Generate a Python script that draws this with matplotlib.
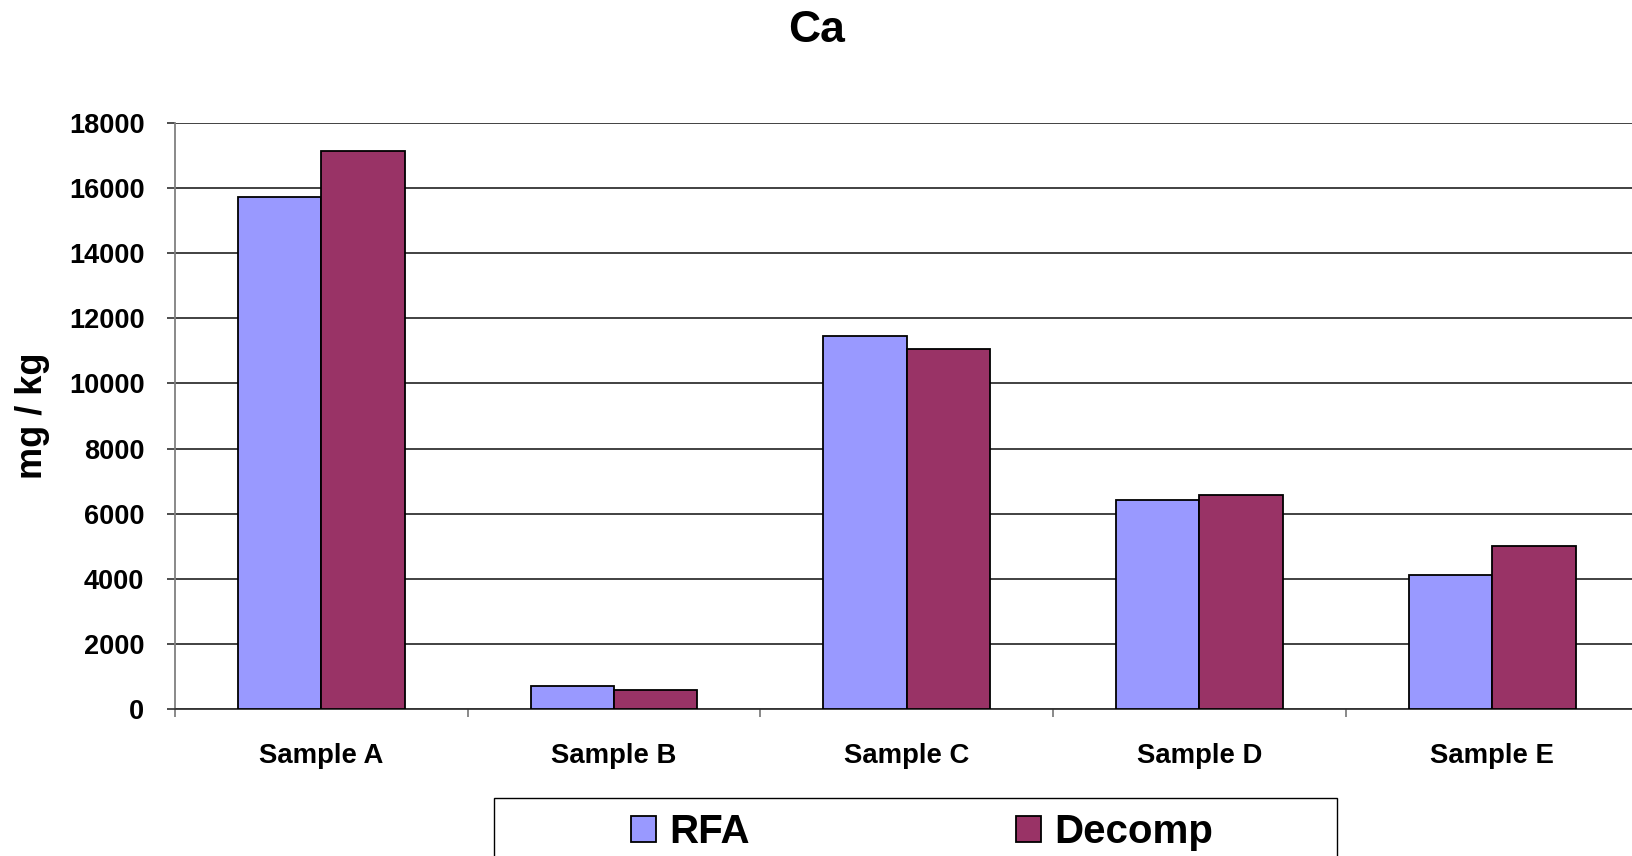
import matplotlib
matplotlib.use("Agg")
import matplotlib.pyplot as plt
from matplotlib.patches import Rectangle
import numpy as np

plt.rcParams["font.family"] = ["Liberation Sans", "DejaVu Sans"]
plt.rcParams["font.weight"] = "bold"

categories = ["Sample A", "Sample B", "Sample C", "Sample D", "Sample E"]
rfa = [15730, 724, 11446, 6413, 4130]
decomp = [17131, 601, 11065, 6567, 5002]
yticks = [0, 2000, 4000, 6000, 8000, 10000, 12000, 14000, 16000, 18000]

W, H = 1633, 856
fig = plt.figure(figsize=(W / 100, H / 100), dpi=100)
ax = fig.add_axes([175 / W, 1 - 709.3 / H, 1463.5 / W, (709.3 - 122.7) / H])

x = np.arange(len(categories)) + 0.5
bw = 0.285
ax.bar(x - bw / 2, rfa, bw, color="#9999FF", edgecolor="black", linewidth=1.3,
       label="RFA", zorder=3)
ax.bar(x + bw / 2, decomp, bw, color="#993366", edgecolor="black", linewidth=1.3,
       label="Decomp", zorder=3)

ax.set_xlim(0, len(categories))
ax.set_ylim(0, 18000)
ax.set_yticks(yticks)
ax.set_yticklabels([str(v) for v in yticks], fontsize=19.5, fontweight="bold")
ax.set_xticks(x)
ax.set_xticklabels(categories, fontsize=19.8, fontweight="bold")
ax.set_xticks(np.arange(len(categories) + 1), minor=True)
ax.tick_params(axis="x", which="major", length=0, pad=24)
ax.tick_params(axis="x", which="minor", length=6, width=1.3, color="#808080")
ax.tick_params(axis="y", length=6, width=1.3, color="#404040", pad=16)

ax.yaxis.grid(True, color="#333333", linewidth=1.3, zorder=0)
ax.set_axisbelow(True)
for s in ("top", "right"):
    ax.spines[s].set_visible(False)
ax.spines["left"].set_color("#808080")
ax.spines["left"].set_linewidth(1.3)
ax.spines["bottom"].set_color("#333333")
ax.spines["bottom"].set_linewidth(1.3)

fig.text(0.5, 1 - 31 / H, "Ca", ha="center", va="center", fontsize=32,
         fontweight="bold")
fig.text(33 / W, 1 - 416 / H, "mg / kg", ha="center", va="center", rotation=90,
         fontsize=26, fontweight="bold")

# legend frame, running off the bottom edge
fig.patches.append(Rectangle((494 / W, -0.05), 843 / W, 0.05 + (1 - 798 / H),
                             transform=fig.transFigure, fill=False,
                             edgecolor="black", linewidth=1.0))
handles, labels = ax.get_legend_handles_labels()
fig.legend(handles, labels, loc="center left",
           bbox_to_anchor=(611 / W, 1 - 832 / H), ncol=2, frameon=False,
           prop={"family": "Liberation Sans", "weight": "bold", "size": 29},
           borderpad=0, handlelength=0.62, handleheight=0.62,
           handletextpad=0.33, columnspacing=6.6)

fig.savefig("out.png", dpi=100)
